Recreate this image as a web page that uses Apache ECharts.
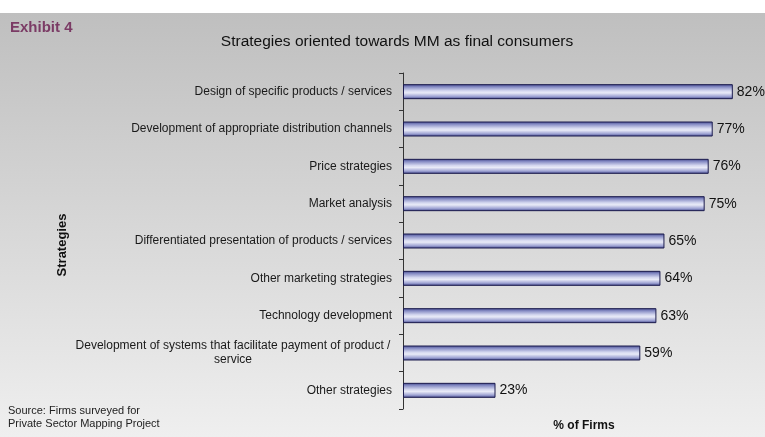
<!DOCTYPE html>
<html>
<head>
<meta charset="utf-8">
<script src="https://cdn.jsdelivr.net/npm/echarts@6/dist/echarts.min.js"></script>
<style>
  html, body { margin: 0; padding: 0; background: #fff; }
  #chart { width: 765px; height: 437px; }
</style>
</head>
<body>
<div id="chart"></div>
<script>
// Strategies, listed top to bottom
const categories = [
  'Design of specific products / services',
  'Development of appropriate distribution channels',
  'Price strategies',
  'Market analysis',
  'Differentiated presentation of products / services',
  'Other marketing strategies',
  'Technology development',
  'Development of systems that facilitate payment of product /\nservice',
  'Other strategies'
];
// Share of firms using each strategy (%)
const values = [82, 77, 76, 75, 65, 64, 63, 59, 23];

const chart = echarts.init(document.getElementById('chart'), null, { renderer: 'canvas' });

const FONT = '"Liberation Sans", Arial, sans-serif';

const barFill = new echarts.graphic.LinearGradient(0, 0, 0, 1, [
  { offset: 0, color: '#3e4388' },
  { offset: 0.18, color: '#868cc4' },
  { offset: 0.45, color: '#d6d9f0' },
  { offset: 0.58, color: '#e8eaf7' },
  { offset: 0.82, color: '#9ea3d3' },
  { offset: 1, color: '#3e4388' }
]);

chart.setOption({
  animation: false,
  backgroundColor: new echarts.graphic.LinearGradient(0, 0, 0, 1, [
    { offset: 0, color: '#ffffff' },
    { offset: 13 / 437, color: '#ffffff' },
    { offset: 13 / 437, color: '#bfbfbf' },
    { offset: 1, color: '#efefef' }
  ]),
  title: {
    text: 'Strategies oriented towards MM as final consumers',
    left: 392,
    top: 29,
    textAlign: 'center',
    textStyle: { fontFamily: FONT, fontSize: 15.5, fontWeight: 'normal', color: '#111' }
  },
  graphic: [
    {
      type: 'text', left: 10, top: 20,
      style: { text: 'Exhibit 4', font: 'bold 15px ' + FONT, fill: '#7b3b65' }
    },
    {
      type: 'text', left: 8, top: 404,
      style: { text: 'Source: Firms surveyed for\nPrivate Sector Mapping Project', font: '11px ' + FONT, fill: '#222', lineHeight: 13 }
    }
  ],
  grid: { left: 403, right: 0, top: 73, bottom: 26, containLabel: false },
  xAxis: {
    type: 'value',
    min: 0,
    max: 90,
    axisLine: { show: false },
    axisTick: { show: false },
    axisLabel: { show: false },
    splitLine: { show: false },
    name: '% of Firms',
    nameLocation: 'middle',
    nameGap: 11,
    nameTextStyle: { fontFamily: FONT, fontSize: 12, fontWeight: 'bold', color: '#111' }
  },
  yAxis: {
    type: 'category',
    inverse: true,
    data: categories,
    axisLine: { show: true, lineStyle: { color: '#333', width: 1 } },
    axisTick: { show: true, length: 4, lineStyle: { color: '#333' } },
    axisLabel: {
      margin: 11,
      color: '#1a1a1a',
      fontFamily: FONT,
      fontSize: 12,
      lineHeight: 14,
      formatter: function (v) {
        if (v.indexOf('\n') >= 0) {
          const parts = v.split('\n');
          return parts.map(p => '{c|' + p + '}').join('\n');
        }
        return v;
      },
      rich: {
        c: { width: 318, align: 'center', fontFamily: FONT, fontSize: 12, lineHeight: 14, color: '#1a1a1a' }
      }
    },
    name: 'Strategies',
    nameLocation: 'middle',
    nameGap: 334,
    nameRotate: 90,
    nameTextStyle: { fontFamily: FONT, fontSize: 13, fontWeight: 'bold', color: '#111', padding: [0, 8, 0, 0] }
  },
  series: [{
    type: 'bar',
    data: values,
    barWidth: 15,
    itemStyle: { color: barFill, borderColor: '#1c1c4e', borderWidth: 1 },
    label: {
      show: true,
      position: 'right',
      distance: 4,
      formatter: '{c}%',
      fontFamily: FONT,
      fontSize: 14,
      color: '#111'
    }
  }]
});
</script>
</body>
</html>
